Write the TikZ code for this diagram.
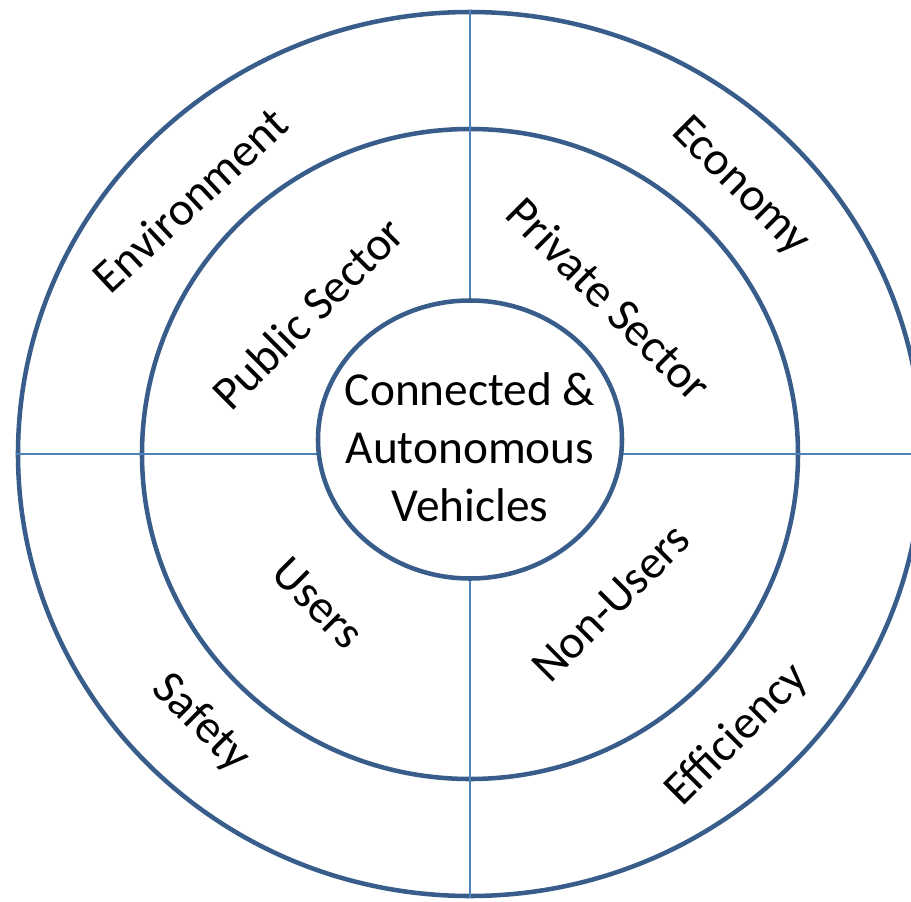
\documentclass[tikz,border=0pt]{standalone}
\usepackage{fontspec}
\setmainfont{Carlito}
\usetikzlibrary{shapes.geometric}
\definecolor{ringblue}{HTML}{385D8A}
\definecolor{axisblue}{HTML}{4F81BD}
\tikzset{
 ring/.style={draw=ringblue, line width=3.4pt, ellipse, inner sep=0pt},
 axis/.style={draw=axisblue, line width=1.5pt},
 lbl/.style={font=\fontsize{35.5}{43.5}\selectfont, inner sep=0pt}
}

\begin{document}
\begin{tikzpicture}[x=0.75pt,y=0.75pt]
 \useasboundingbox (-470,-447) rectangle (441,454);
 % outer and middle rings
 \node[ring, minimum width=678pt, minimum height=663pt] (outer) at (0,0) {};
 \node[ring, minimum width=492pt, minimum height=487.5pt] (middle) at (0,0) {};
 % the two axes
  \draw[axis] (outer.north) -- (outer.south);
  \draw[axis] (outer.west) -- (outer.east);
 % centre
 \node[ring, fill=white, minimum width=228pt, minimum height=208.5pt] (cav) at (0,14.5) {};
 \node[lbl, align=center] (cavtext) at (0,7) {Connected \&\\Autonomous\\Vehicles};
 % middle ring
 \node[lbl, rotate=45] (pub) at (-162,141) {Public Sector};
 \node[lbl, rotate=-45] (priv) at (139,155) {Private Sector};
 \node[lbl, rotate=-45] (users) at (-152,-149) {Users};
 \node[lbl, rotate=45] (nonusers) at (141,-149) {Non-Users};
 % outer ring
 \node[lbl, rotate=43] (env) at (-280,254) {Environment};
 \node[lbl, rotate=-45] (econ) at (270,267) {Economy};
 \node[lbl, rotate=-45] (safety) at (-269,-269) {Safety};
 \node[lbl, rotate=45] (effic) at (267,-281) {Efficiency};
\end{tikzpicture}
\end{document}
